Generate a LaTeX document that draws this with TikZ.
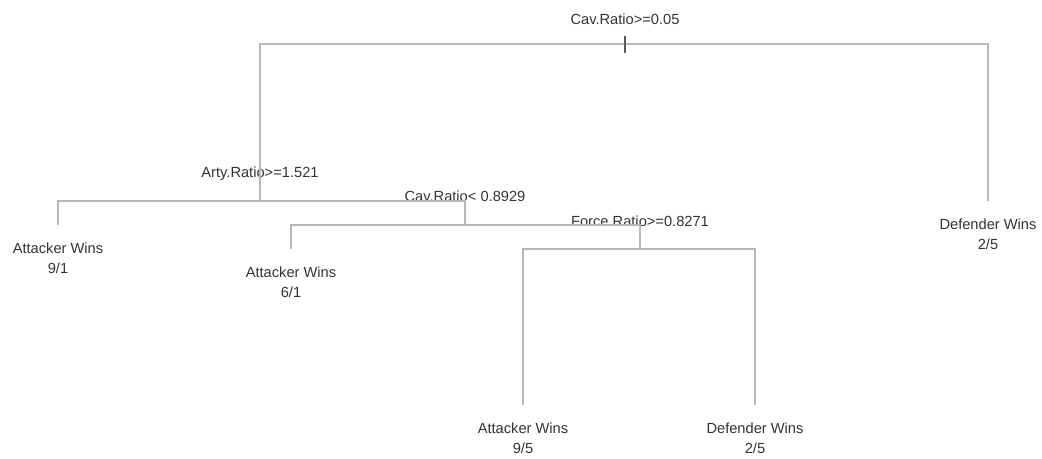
\documentclass[tikz,border=0pt]{standalone}
\usepackage{fontspec}
\setmainfont{Liberation Sans}

\begin{document}
\begin{tikzpicture}
        [x=0.75pt, y=-0.75pt, inner sep=0pt,
         split/.style={anchor=base, font=\fontsize{11}{14}\selectfont, text=black!80},
         leaf/.style={anchor=north, align=center, inner xsep=0pt, inner ysep=13pt,
                      font=\fontsize{11}{15}\selectfont, text=black!80},
         branch/.style={draw=black!28, line width=1.1pt}]
        \useasboundingbox (0, 0) rectangle (1042, 458);
        % split points
        \coordinate (cavroot) at (625,  44);
        \coordinate (arty)    at (260, 201);
        \coordinate (cavlow)  at (465, 225);
        \coordinate (force)   at (640, 249);
        % split labels
        \node (cavrootlab) at (625,  24)[split] {Cav.Ratio>=0.05};
        \node (artylab)    at (260, 177)[split] {Arty.Ratio>=1.521};
        \node (cavlowlab)  at (465, 201)[split] {Cav.Ratio< 0.8929};
        \node (forcelab)   at (640, 226)[split] {Force.Ratio>=0.8271};
        % leaves
        \node (att91) at ( 58, 225)[leaf] {Attacker Wins\\9/1};
        \node (att61) at (291, 249)[leaf] {Attacker Wins\\6/1};
        \node (att95) at (523, 405)[leaf] {Attacker Wins\\9/5};
        \node (def25) at (755, 405)[leaf] {Defender Wins\\2/5};
        \node (defr)  at (988, 201)[leaf] {Defender Wins\\2/5};
        % branches
        \draw [branch] (cavroot) -| (arty);
        \draw [branch] (cavroot) -| (defr);
        \draw [branch] (arty) -| (att91);
        \draw [branch] (arty) -| (cavlow);
        \draw [branch] (cavlow) -| (att61);
        \draw [branch] (cavlow) -| (force);
        \draw [branch] (force) -| (att95);
        \draw [branch] (force) -| (def25);
        \draw [black!65, line width=1.1pt] (cavroot) ++(0, -8) -- ++(0, 17);
    \end{tikzpicture}
\end{document}
